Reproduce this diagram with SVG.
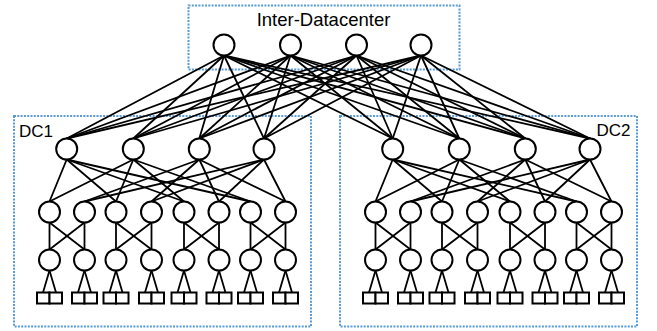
<svg xmlns="http://www.w3.org/2000/svg" width="657" height="331" viewBox="0 0 657 331">
<style>
.frame{fill:none;stroke:#5B9BD5;stroke-width:2;stroke-dasharray:2 1.3}
.lbl{font-family:"Liberation Sans",Arial,sans-serif;fill:#000}
.node circle{fill:#fff;stroke:#000;stroke-width:2}
.node rect{fill:#fff;stroke:#000;stroke-width:2}
#connectors line{stroke:#000;stroke-width:1.8;stroke-linecap:round}
</style>
<rect width="657" height="331" fill="#fff"/>
<g id="frames">
<g id="inter-dc"><rect class="frame" x="188.5" y="5.5" width="271" height="64"/><text class="lbl" x="323.5" y="26" font-size="18.5" text-anchor="middle">Inter-Datacenter</text></g>
<g id="dc1"><rect class="frame" x="14" y="116" width="297" height="210.5"/><text class="lbl" x="19" y="136.5" font-size="17">DC1</text></g>
<g id="dc2"><rect class="frame" x="340" y="116" width="297" height="210.5"/><text class="lbl" x="630.5" y="135.5" font-size="17" text-anchor="end">DC2</text></g>
</g>
<g id="connectors">
<!-- core to aggregation -->
<line x1="224" y1="55.5" x2="66.7" y2="138.5"/><line x1="224" y1="55.5" x2="133.3" y2="138.5"/><line x1="224" y1="55.5" x2="199.3" y2="138.5"/><line x1="224" y1="55.5" x2="264" y2="138.5"/><line x1="224" y1="55.5" x2="392.7" y2="138.5"/><line x1="224" y1="55.5" x2="459.3" y2="138.5"/><line x1="224" y1="55.5" x2="525.3" y2="138.5"/><line x1="224" y1="55.5" x2="590" y2="138.5"/>
<line x1="290.5" y1="55.5" x2="66.7" y2="138.5"/><line x1="290.5" y1="55.5" x2="133.3" y2="138.5"/><line x1="290.5" y1="55.5" x2="199.3" y2="138.5"/><line x1="290.5" y1="55.5" x2="264" y2="138.5"/><line x1="290.5" y1="55.5" x2="392.7" y2="138.5"/><line x1="290.5" y1="55.5" x2="459.3" y2="138.5"/><line x1="290.5" y1="55.5" x2="525.3" y2="138.5"/><line x1="290.5" y1="55.5" x2="590" y2="138.5"/>
<line x1="356.5" y1="55.5" x2="66.7" y2="138.5"/><line x1="356.5" y1="55.5" x2="133.3" y2="138.5"/><line x1="356.5" y1="55.5" x2="199.3" y2="138.5"/><line x1="356.5" y1="55.5" x2="264" y2="138.5"/><line x1="356.5" y1="55.5" x2="392.7" y2="138.5"/><line x1="356.5" y1="55.5" x2="459.3" y2="138.5"/><line x1="356.5" y1="55.5" x2="525.3" y2="138.5"/><line x1="356.5" y1="55.5" x2="590" y2="138.5"/>
<line x1="421" y1="55.5" x2="66.7" y2="138.5"/><line x1="421" y1="55.5" x2="133.3" y2="138.5"/><line x1="421" y1="55.5" x2="199.3" y2="138.5"/><line x1="421" y1="55.5" x2="264" y2="138.5"/><line x1="421" y1="55.5" x2="392.7" y2="138.5"/><line x1="421" y1="55.5" x2="459.3" y2="138.5"/><line x1="421" y1="55.5" x2="525.3" y2="138.5"/><line x1="421" y1="55.5" x2="590" y2="138.5"/>
<!-- aggregation to edge, DC1 -->
<line x1="66.7" y1="159.5" x2="49.5" y2="201.5"/><line x1="66.7" y1="159.5" x2="116" y2="201.5"/><line x1="66.7" y1="159.5" x2="184" y2="201.5"/><line x1="66.7" y1="159.5" x2="250.5" y2="201.5"/>
<line x1="133.3" y1="159.5" x2="49.5" y2="201.5"/><line x1="133.3" y1="159.5" x2="116" y2="201.5"/><line x1="133.3" y1="159.5" x2="184" y2="201.5"/><line x1="133.3" y1="159.5" x2="250.5" y2="201.5"/>
<line x1="199.3" y1="159.5" x2="84.5" y2="201.5"/><line x1="199.3" y1="159.5" x2="151.5" y2="201.5"/><line x1="199.3" y1="159.5" x2="219" y2="201.5"/><line x1="199.3" y1="159.5" x2="285.5" y2="201.5"/>
<line x1="264" y1="159.5" x2="84.5" y2="201.5"/><line x1="264" y1="159.5" x2="151.5" y2="201.5"/><line x1="264" y1="159.5" x2="219" y2="201.5"/><line x1="264" y1="159.5" x2="285.5" y2="201.5"/>
<!-- aggregation to edge, DC2 -->
<line x1="392.7" y1="159.5" x2="375.5" y2="201.5"/><line x1="392.7" y1="159.5" x2="442" y2="201.5"/><line x1="392.7" y1="159.5" x2="510" y2="201.5"/><line x1="392.7" y1="159.5" x2="576.5" y2="201.5"/>
<line x1="459.3" y1="159.5" x2="375.5" y2="201.5"/><line x1="459.3" y1="159.5" x2="442" y2="201.5"/><line x1="459.3" y1="159.5" x2="510" y2="201.5"/><line x1="459.3" y1="159.5" x2="576.5" y2="201.5"/>
<line x1="525.3" y1="159.5" x2="410.5" y2="201.5"/><line x1="525.3" y1="159.5" x2="477.5" y2="201.5"/><line x1="525.3" y1="159.5" x2="545" y2="201.5"/><line x1="525.3" y1="159.5" x2="611.5" y2="201.5"/>
<line x1="590" y1="159.5" x2="410.5" y2="201.5"/><line x1="590" y1="159.5" x2="477.5" y2="201.5"/><line x1="590" y1="159.5" x2="545" y2="201.5"/><line x1="590" y1="159.5" x2="611.5" y2="201.5"/>
<!-- edge to ToR -->
<line x1="49.5" y1="222.5" x2="49.5" y2="249.5"/><line x1="49.5" y1="222.5" x2="84.5" y2="249.5"/><line x1="84.5" y1="222.5" x2="49.5" y2="249.5"/><line x1="84.5" y1="222.5" x2="84.5" y2="249.5"/>
<line x1="116" y1="222.5" x2="116" y2="249.5"/><line x1="116" y1="222.5" x2="151.5" y2="249.5"/><line x1="151.5" y1="222.5" x2="116" y2="249.5"/><line x1="151.5" y1="222.5" x2="151.5" y2="249.5"/>
<line x1="184" y1="222.5" x2="184" y2="249.5"/><line x1="184" y1="222.5" x2="219" y2="249.5"/><line x1="219" y1="222.5" x2="184" y2="249.5"/><line x1="219" y1="222.5" x2="219" y2="249.5"/>
<line x1="250.5" y1="222.5" x2="250.5" y2="249.5"/><line x1="250.5" y1="222.5" x2="285.5" y2="249.5"/><line x1="285.5" y1="222.5" x2="250.5" y2="249.5"/><line x1="285.5" y1="222.5" x2="285.5" y2="249.5"/>
<line x1="375.5" y1="222.5" x2="375.5" y2="249.5"/><line x1="375.5" y1="222.5" x2="410.5" y2="249.5"/><line x1="410.5" y1="222.5" x2="375.5" y2="249.5"/><line x1="410.5" y1="222.5" x2="410.5" y2="249.5"/>
<line x1="442" y1="222.5" x2="442" y2="249.5"/><line x1="442" y1="222.5" x2="477.5" y2="249.5"/><line x1="477.5" y1="222.5" x2="442" y2="249.5"/><line x1="477.5" y1="222.5" x2="477.5" y2="249.5"/>
<line x1="510" y1="222.5" x2="510" y2="249.5"/><line x1="510" y1="222.5" x2="545" y2="249.5"/><line x1="545" y1="222.5" x2="510" y2="249.5"/><line x1="545" y1="222.5" x2="545" y2="249.5"/>
<line x1="576.5" y1="222.5" x2="576.5" y2="249.5"/><line x1="576.5" y1="222.5" x2="611.5" y2="249.5"/><line x1="611.5" y1="222.5" x2="576.5" y2="249.5"/><line x1="611.5" y1="222.5" x2="611.5" y2="249.5"/>
<!-- ToR to hosts -->
<line x1="49.5" y1="270.5" x2="43" y2="292.5"/><line x1="49.5" y1="270.5" x2="56" y2="292.5"/>
<line x1="84.5" y1="270.5" x2="78" y2="292.5"/><line x1="84.5" y1="270.5" x2="91" y2="292.5"/>
<line x1="116" y1="270.5" x2="109.5" y2="292.5"/><line x1="116" y1="270.5" x2="122.5" y2="292.5"/>
<line x1="151.5" y1="270.5" x2="145" y2="292.5"/><line x1="151.5" y1="270.5" x2="158" y2="292.5"/>
<line x1="184" y1="270.5" x2="177.5" y2="292.5"/><line x1="184" y1="270.5" x2="190.5" y2="292.5"/>
<line x1="219" y1="270.5" x2="212.5" y2="292.5"/><line x1="219" y1="270.5" x2="225.5" y2="292.5"/>
<line x1="250.5" y1="270.5" x2="244" y2="292.5"/><line x1="250.5" y1="270.5" x2="257" y2="292.5"/>
<line x1="285.5" y1="270.5" x2="279" y2="292.5"/><line x1="285.5" y1="270.5" x2="292" y2="292.5"/>
<line x1="375.5" y1="270.5" x2="369" y2="292.5"/><line x1="375.5" y1="270.5" x2="382" y2="292.5"/>
<line x1="410.5" y1="270.5" x2="404" y2="292.5"/><line x1="410.5" y1="270.5" x2="417" y2="292.5"/>
<line x1="442" y1="270.5" x2="435.5" y2="292.5"/><line x1="442" y1="270.5" x2="448.5" y2="292.5"/>
<line x1="477.5" y1="270.5" x2="471" y2="292.5"/><line x1="477.5" y1="270.5" x2="484" y2="292.5"/>
<line x1="510" y1="270.5" x2="503.5" y2="292.5"/><line x1="510" y1="270.5" x2="516.5" y2="292.5"/>
<line x1="545" y1="270.5" x2="538.5" y2="292.5"/><line x1="545" y1="270.5" x2="551.5" y2="292.5"/>
<line x1="576.5" y1="270.5" x2="570" y2="292.5"/><line x1="576.5" y1="270.5" x2="583" y2="292.5"/>
<line x1="611.5" y1="270.5" x2="605" y2="292.5"/><line x1="611.5" y1="270.5" x2="618" y2="292.5"/>
</g>
<g id="nodes">
<g id="core1" class="node"><circle cx="224" cy="45" r="10.5"/></g>
<g id="core2" class="node"><circle cx="290.5" cy="45" r="10.5"/></g>
<g id="core3" class="node"><circle cx="356.5" cy="45" r="10.5"/></g>
<g id="core4" class="node"><circle cx="421" cy="45" r="10.5"/></g>
<g id="dc1-agg1" class="node"><circle cx="66.7" cy="149" r="10.5"/></g>
<g id="dc1-agg2" class="node"><circle cx="133.3" cy="149" r="10.5"/></g>
<g id="dc1-agg3" class="node"><circle cx="199.3" cy="149" r="10.5"/></g>
<g id="dc1-agg4" class="node"><circle cx="264" cy="149" r="10.5"/></g>
<g id="dc2-agg1" class="node"><circle cx="392.7" cy="149" r="10.5"/></g>
<g id="dc2-agg2" class="node"><circle cx="459.3" cy="149" r="10.5"/></g>
<g id="dc2-agg3" class="node"><circle cx="525.3" cy="149" r="10.5"/></g>
<g id="dc2-agg4" class="node"><circle cx="590" cy="149" r="10.5"/></g>
<g id="dc1-edge1" class="node"><circle cx="49.5" cy="212" r="10.5"/></g>
<g id="dc1-edge2" class="node"><circle cx="84.5" cy="212" r="10.5"/></g>
<g id="dc1-edge3" class="node"><circle cx="116" cy="212" r="10.5"/></g>
<g id="dc1-edge4" class="node"><circle cx="151.5" cy="212" r="10.5"/></g>
<g id="dc1-edge5" class="node"><circle cx="184" cy="212" r="10.5"/></g>
<g id="dc1-edge6" class="node"><circle cx="219" cy="212" r="10.5"/></g>
<g id="dc1-edge7" class="node"><circle cx="250.5" cy="212" r="10.5"/></g>
<g id="dc1-edge8" class="node"><circle cx="285.5" cy="212" r="10.5"/></g>
<g id="dc2-edge1" class="node"><circle cx="375.5" cy="212" r="10.5"/></g>
<g id="dc2-edge2" class="node"><circle cx="410.5" cy="212" r="10.5"/></g>
<g id="dc2-edge3" class="node"><circle cx="442" cy="212" r="10.5"/></g>
<g id="dc2-edge4" class="node"><circle cx="477.5" cy="212" r="10.5"/></g>
<g id="dc2-edge5" class="node"><circle cx="510" cy="212" r="10.5"/></g>
<g id="dc2-edge6" class="node"><circle cx="545" cy="212" r="10.5"/></g>
<g id="dc2-edge7" class="node"><circle cx="576.5" cy="212" r="10.5"/></g>
<g id="dc2-edge8" class="node"><circle cx="611.5" cy="212" r="10.5"/></g>
<g id="dc1-tor1" class="node"><circle cx="49.5" cy="260" r="10.5"/></g>
<g id="dc1-tor2" class="node"><circle cx="84.5" cy="260" r="10.5"/></g>
<g id="dc1-tor3" class="node"><circle cx="116" cy="260" r="10.5"/></g>
<g id="dc1-tor4" class="node"><circle cx="151.5" cy="260" r="10.5"/></g>
<g id="dc1-tor5" class="node"><circle cx="184" cy="260" r="10.5"/></g>
<g id="dc1-tor6" class="node"><circle cx="219" cy="260" r="10.5"/></g>
<g id="dc1-tor7" class="node"><circle cx="250.5" cy="260" r="10.5"/></g>
<g id="dc1-tor8" class="node"><circle cx="285.5" cy="260" r="10.5"/></g>
<g id="dc2-tor1" class="node"><circle cx="375.5" cy="260" r="10.5"/></g>
<g id="dc2-tor2" class="node"><circle cx="410.5" cy="260" r="10.5"/></g>
<g id="dc2-tor3" class="node"><circle cx="442" cy="260" r="10.5"/></g>
<g id="dc2-tor4" class="node"><circle cx="477.5" cy="260" r="10.5"/></g>
<g id="dc2-tor5" class="node"><circle cx="510" cy="260" r="10.5"/></g>
<g id="dc2-tor6" class="node"><circle cx="545" cy="260" r="10.5"/></g>
<g id="dc2-tor7" class="node"><circle cx="576.5" cy="260" r="10.5"/></g>
<g id="dc2-tor8" class="node"><circle cx="611.5" cy="260" r="10.5"/></g>
<g id="dc1-hosts1" class="node"><rect x="37" y="292.5" width="12.5" height="11"/><rect x="49.5" y="292.5" width="12.5" height="11"/></g>
<g id="dc1-hosts2" class="node"><rect x="72" y="292.5" width="12.5" height="11"/><rect x="84.5" y="292.5" width="12.5" height="11"/></g>
<g id="dc1-hosts3" class="node"><rect x="103.5" y="292.5" width="12.5" height="11"/><rect x="116" y="292.5" width="12.5" height="11"/></g>
<g id="dc1-hosts4" class="node"><rect x="139" y="292.5" width="12.5" height="11"/><rect x="151.5" y="292.5" width="12.5" height="11"/></g>
<g id="dc1-hosts5" class="node"><rect x="171.5" y="292.5" width="12.5" height="11"/><rect x="184" y="292.5" width="12.5" height="11"/></g>
<g id="dc1-hosts6" class="node"><rect x="206.5" y="292.5" width="12.5" height="11"/><rect x="219" y="292.5" width="12.5" height="11"/></g>
<g id="dc1-hosts7" class="node"><rect x="238" y="292.5" width="12.5" height="11"/><rect x="250.5" y="292.5" width="12.5" height="11"/></g>
<g id="dc1-hosts8" class="node"><rect x="273" y="292.5" width="12.5" height="11"/><rect x="285.5" y="292.5" width="12.5" height="11"/></g>
<g id="dc2-hosts1" class="node"><rect x="363" y="292.5" width="12.5" height="11"/><rect x="375.5" y="292.5" width="12.5" height="11"/></g>
<g id="dc2-hosts2" class="node"><rect x="398" y="292.5" width="12.5" height="11"/><rect x="410.5" y="292.5" width="12.5" height="11"/></g>
<g id="dc2-hosts3" class="node"><rect x="429.5" y="292.5" width="12.5" height="11"/><rect x="442" y="292.5" width="12.5" height="11"/></g>
<g id="dc2-hosts4" class="node"><rect x="465" y="292.5" width="12.5" height="11"/><rect x="477.5" y="292.5" width="12.5" height="11"/></g>
<g id="dc2-hosts5" class="node"><rect x="497.5" y="292.5" width="12.5" height="11"/><rect x="510" y="292.5" width="12.5" height="11"/></g>
<g id="dc2-hosts6" class="node"><rect x="532.5" y="292.5" width="12.5" height="11"/><rect x="545" y="292.5" width="12.5" height="11"/></g>
<g id="dc2-hosts7" class="node"><rect x="564" y="292.5" width="12.5" height="11"/><rect x="576.5" y="292.5" width="12.5" height="11"/></g>
<g id="dc2-hosts8" class="node"><rect x="599" y="292.5" width="12.5" height="11"/><rect x="611.5" y="292.5" width="12.5" height="11"/></g>
</g>
</svg>
